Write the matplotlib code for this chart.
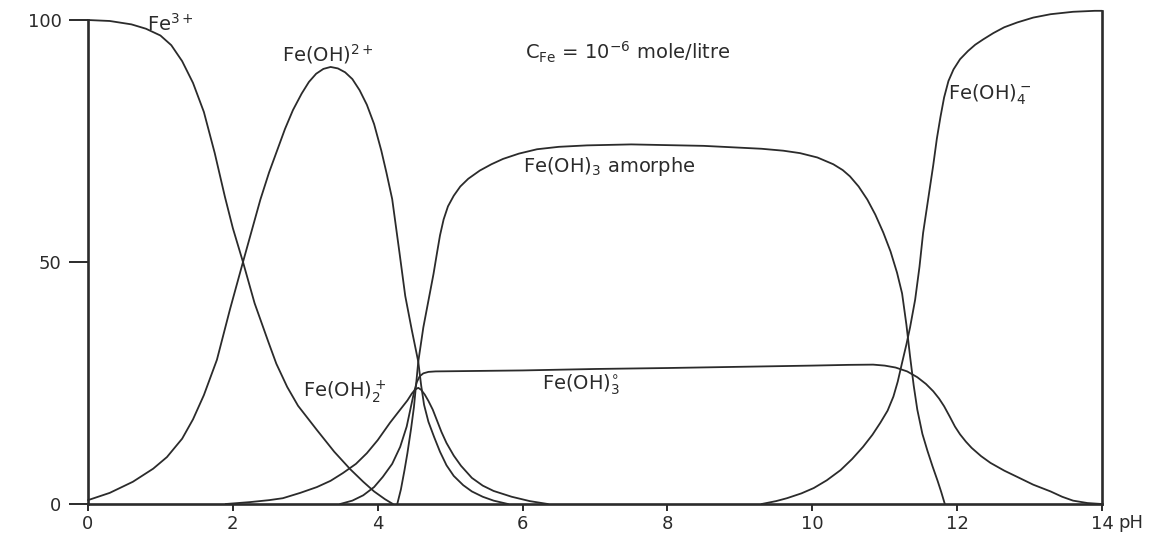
# Speciation of dissolved iron vs pH (C_Fe = 1e-6 mol/L)
import matplotlib.pyplot as plt

# -----------------------------------------------------------------------------
# Data (pH, % of total iron)
# -----------------------------------------------------------------------------
fe3_ph = [0.0, 0.3, 0.6, 0.8, 1.0, 1.15, 1.3, 1.45, 1.6, 1.75, 1.89, 2.0,
          2.14, 2.3, 2.49, 2.6, 2.75, 2.9, 3.16, 3.4, 3.62, 3.8, 3.95, 4.1,
          4.21]
fe3_pct = [100, 99.8, 99.1, 98.2, 96.8, 94.8, 91.5, 87, 81, 72.5, 63.5, 57,
           50, 41.5, 33.5, 29, 24.2, 20.3, 15.3, 10.8, 7.2, 4.6, 2.6, 1.0, 0]

feoh_ph = [0.0, 0.3, 0.62, 0.9, 1.09, 1.3, 1.45, 1.6, 1.78, 1.96, 2.14, 2.38,
           2.5, 2.61, 2.72, 2.83, 2.95, 3.05, 3.15, 3.25, 3.35, 3.45, 3.55,
           3.65, 3.75, 3.85, 3.95, 4.05, 4.12, 4.2, 4.3, 4.38, 4.47, 4.56,
           4.6, 4.64, 4.7, 4.78, 4.86, 4.95, 5.05, 5.18, 5.3, 5.45, 5.6, 5.8]
feoh_pct = [0.8, 2.3, 4.6, 7.3, 9.7, 13.5, 17.5, 22.5, 29.8, 40.2, 50, 62.9,
            68.5, 73, 77.5, 81.4, 84.8, 87.2, 88.9, 89.9, 90.3, 90.0, 89.2,
            87.8, 85.5, 82.5, 78.5, 73, 68.5, 63, 52, 43, 36, 29.4,
            24.5, 20.5, 17, 13.8, 10.8, 8.0, 5.8, 3.9, 2.6, 1.5, 0.7, 0]

feoh2_ph = [1.9, 2.24, 2.5, 2.69, 2.93, 3.16, 3.35, 3.52, 3.7, 3.85, 4.0,
            4.17, 4.3, 4.41, 4.47, 4.52, 4.56, 4.6, 4.65, 4.7, 4.76, 4.82,
            4.88, 4.95, 5.05, 5.15, 5.3, 5.45, 5.6, 5.85, 6.1, 6.35]
feoh2_pct = [0, 0.4, 0.8, 1.2, 2.3, 3.5, 4.8, 6.4, 8.3, 10.5, 13.2,
             16.8, 19.3, 21.4, 22.8, 23.7, 24, 23.6, 22.6, 21.3, 19.5, 17.2,
             14.9, 12.6, 10.0, 7.9, 5.4, 3.8, 2.7, 1.5, 0.6, 0]

feoh3aq_ph = [3.48, 3.65, 3.8, 3.95, 4.07, 4.2, 4.31, 4.4, 4.45, 4.5, 4.54,
              4.58, 4.63, 4.7, 4.8, 6, 7, 8, 9, 10, 10.5, 10.84, 11.0, 11.15,
              11.31, 11.45, 11.57, 11.67, 11.75, 11.82, 11.9, 11.97, 12.04,
              12.12, 12.2, 12.33, 12.46, 12.65, 12.83, 13.05, 13.29, 13.45,
              13.6, 13.8, 14]
feoh3aq_pct = [0, 0.7, 1.8, 3.5, 5.6, 8.3, 11.8, 16, 19.5, 23, 25.2,
               26.4, 27, 27.3, 27.4, 27.6, 27.9, 28.1, 28.35, 28.6, 28.75,
               28.8, 28.6, 28.2, 27.4, 26.2, 24.8, 23.3, 21.8, 20.2, 18, 16,
               14.4, 12.9, 11.6, 9.9, 8.5, 6.9, 5.6, 4.0, 2.6, 1.5, 0.7,
               0.2, 0]

amorph_ph = [4.27, 4.32, 4.37, 4.41, 4.46, 4.5, 4.56, 4.63, 4.7, 4.77, 4.82,
             4.86, 4.91, 4.97, 5.05, 5.14, 5.25, 5.41, 5.57, 5.73, 5.95, 6.2,
             6.5, 6.89, 7.5, 8.5, 9.3, 9.6, 9.83, 10.07, 10.29, 10.42, 10.52,
             10.64, 10.76, 10.87, 10.98, 11.08, 11.17, 11.24, 11.3, 11.35,
             11.4, 11.45, 11.52, 11.59, 11.66, 11.73, 11.78, 11.81, 11.83]
amorph_pct = [0, 3, 7, 10.5, 15.5, 20, 29.4, 36.5, 42, 47.5, 52,
              55.5, 58.8, 61.5, 63.7, 65.6, 67.2, 68.9, 70.2, 71.3, 72.4, 73.3,
              73.8, 74.1, 74.3, 74.0, 73.4, 73.0, 72.5, 71.6, 70.2, 69.0, 67.7,
              65.6, 62.9, 59.8, 56.1, 52.2, 47.8, 43.5, 37, 30.5,
              24.5, 19.5, 14.5, 11.0, 7.8, 4.8, 2.5, 1.0, 0]

feoh4_ph = [9.3, 9.5, 9.65, 9.85, 10.02, 10.2, 10.39, 10.55, 10.7, 10.83,
            10.94, 11.04, 11.12, 11.18, 11.24, 11.3, 11.35, 11.42, 11.48,
            11.53, 11.6, 11.67, 11.72, 11.77, 11.82, 11.88, 11.95, 12.04,
            12.15, 12.25, 12.36, 12.5, 12.65, 12.83, 13.05, 13.29, 13.6,
            13.9, 14]
feoh4_pct = [0, 0.6, 1.2, 2.2, 3.3, 4.9, 7, 9.3, 11.8, 14.3,
             16.8, 19.3, 22.2, 25.3, 29.2, 33, 36.5, 42.2, 49,
             56, 63, 70, 75.5, 80, 84, 87.4, 89.8, 91.9,
             93.6, 94.9, 96, 97.3, 98.5, 99.5, 100.5, 101.2, 101.7,
             101.9, 101.9]

x_ticks = [0, 2, 4, 6, 8, 10, 12, 14]
y_ticks = [0, 50, 100]

# -----------------------------------------------------------------------------
# Figure
# -----------------------------------------------------------------------------
ink = "#2b2b2b"
fig = plt.figure(figsize=(11.67, 5.39), dpi=100)
ax = fig.add_axes([0.0754, 0.0649, 0.8689, 0.9249])

curves = [(fe3_ph, fe3_pct), (feoh_ph, feoh_pct), (feoh2_ph, feoh2_pct),
          (feoh3aq_ph, feoh3aq_pct), (amorph_ph, amorph_pct),
          (feoh4_ph, feoh4_pct)]
for ph, pct in curves:
    ax.plot(ph, pct, color=ink, lw=1.3, clip_on=False,
            solid_joinstyle="round", solid_capstyle="round")

ax.set_xlim(0, 14)
ax.set_ylim(0, 103)

# frame: open top, right side closed at pH 14
ax.spines["top"].set_visible(False)
for s in ["left", "bottom", "right"]:
    ax.spines[s].set_linewidth(1.9)
    ax.spines[s].set_color(ink)
ax.spines["left"].set_bounds(0, 100)
ax.spines["right"].set_bounds(0, 101.9)

ax.set_xticks(x_ticks)
ax.set_xticklabels([str(t) for t in x_ticks])
ax.set_yticks(y_ticks)
ax.set_yticklabels([str(t) for t in y_ticks])
ax.tick_params(axis="x", direction="out", length=5, width=1.4, pad=3,
               labelsize=13, colors=ink)
ax.tick_params(axis="y", direction="out", length=14, width=1.4, pad=5,
               labelsize=13, colors=ink)
ax.annotate("pH", xy=(14, 0), xytext=(12, -7), textcoords="offset points",
            ha="left", va="top", fontsize=13, color=ink, annotation_clip=False)

# species labels
lab = dict(fontsize=14, color=ink, va="baseline", ha="left")
ax.text(0.81, 97.7, r"Fe$^{3+}$", **lab)
ax.text(2.68, 91.5, r"Fe(OH)$^{2+}$", **lab)
ax.text(6.04, 91.9, r"C$_{\mathrm{Fe}}$ = 10$^{-6}$ mole/litre", **lab)
ax.text(6.01, 68.7, r"Fe(OH)$_3$ amorphe", **lab)
ax.text(11.88, 83.6, r"Fe(OH)$_4^-$", **lab)
ax.text(2.97, 22.2, r"Fe(OH)$_2^+$", **lab)
ax.text(6.27, 23.6, r"Fe(OH)$_3^{\circ}$", **lab)

plt.savefig("out.png", dpi=100)
